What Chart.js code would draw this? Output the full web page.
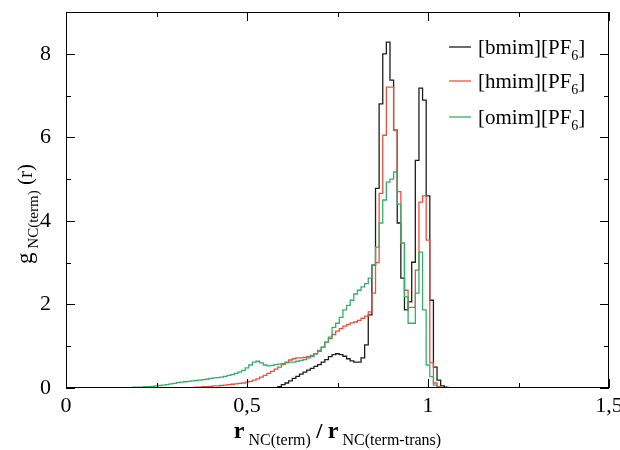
<!DOCTYPE html>
<html>
<head>
<meta charset="utf-8">
<script src="https://cdn.jsdelivr.net/npm/chart.js@4.4.1/dist/chart.umd.min.js"></script>
<style>
  body { margin: 0; background: #fff; }
  #wrap { width: 620px; height: 450px; }
</style>
</head>
<body>
<div id="wrap"><canvas id="rdfChart"></canvas></div>
<script>
// histogram bin centres (bin width 0.01)
const rCenters = [
  0.15, 0.16, 0.17, 0.18, 0.19, 0.20, 0.21, 0.22, 0.23, 0.24,
  0.25, 0.26, 0.27, 0.28, 0.29, 0.30, 0.31, 0.32, 0.33, 0.34,
  0.35, 0.36, 0.37, 0.38, 0.39, 0.40, 0.41, 0.42, 0.43, 0.44,
  0.45, 0.46, 0.47, 0.48, 0.49, 0.50, 0.51, 0.52, 0.53, 0.54,
  0.55, 0.56, 0.57, 0.58, 0.59, 0.60, 0.61, 0.62, 0.63, 0.64,
  0.65, 0.66, 0.67, 0.68, 0.69, 0.70, 0.71, 0.72, 0.73, 0.74,
  0.75, 0.76, 0.77, 0.78, 0.79, 0.80, 0.81, 0.82, 0.83, 0.84,
  0.85, 0.86, 0.87, 0.88, 0.89, 0.90, 0.91, 0.92, 0.93, 0.94,
  0.95, 0.96, 0.97, 0.98, 0.99, 1.00, 1.01, 1.02, 1.03, 1.04,
  1.05, 1.06
];

// [omim][PF6], starts at 0.15
const omim = [
  0, 0.01, 0.01, 0.01, 0.02, 0.02, 0.02, 0.03, 0.03, 0.04,
  0.05, 0.06, 0.07, 0.08, 0.10, 0.11, 0.13, 0.14, 0.15, 0.16,
  0.17, 0.18, 0.19, 0.20, 0.21, 0.23, 0.24, 0.25, 0.26, 0.28,
  0.30, 0.32, 0.35, 0.38, 0.42, 0.48, 0.55, 0.62, 0.64, 0.60,
  0.55, 0.53, 0.54, 0.56, 0.57, 0.58, 0.60, 0.62, 0.62, 0.64,
  0.66, 0.68, 0.72, 0.75, 0.82, 0.90, 0.98, 1.10, 1.22, 1.45,
  1.55, 1.69, 1.87, 1.98, 2.10, 2.25, 2.34, 2.42, 2.50, 2.63,
  2.94, 3.37, 3.95, 4.50, 4.93, 5.00, 5.17, 4.40, 3.47, 2.18,
  1.55, 1.55, 2.27, 3.25, 1.87, 0.55, 0.27, 0.07, 0.01, 0
];
const omimFrom = 0.15;

// [hmim][PF6], starts at 0.33
const hmim = [
  0, 0.01, 0.01, 0.02, 0.02, 0.03, 0.03, 0.04, 0.05, 0.05,
  0.06, 0.07, 0.08, 0.09, 0.10, 0.11, 0.12, 0.14, 0.16, 0.19,
  0.22, 0.26, 0.30, 0.35, 0.40, 0.45, 0.50, 0.56, 0.62, 0.67,
  0.70, 0.72, 0.72, 0.73, 0.75, 0.78, 0.82, 0.88, 0.98, 1.10,
  1.18, 1.28, 1.36, 1.42, 1.48, 1.52, 1.56, 1.58, 1.62, 1.67,
  1.72, 1.82, 2.27, 3.00, 4.66, 6.05, 7.20, 7.20, 6.17, 4.70,
  3.47, 2.34, 1.93, 1.93, 2.82, 4.45, 4.60, 3.54, 0.60, 0.12,
  0.03, 0
];
const hmimFrom = 0.33;

// [bmim][PF6], starts at 0.58
const bmim = [
  0, 0.03, 0.08, 0.12, 0.17, 0.23, 0.28, 0.33, 0.38, 0.43,
  0.47, 0.52, 0.56, 0.62, 0.68, 0.75, 0.80, 0.82, 0.80, 0.76,
  0.70, 0.65, 0.62, 0.62, 0.72, 1.03, 1.75, 2.94, 4.78, 6.80,
  8.00, 8.28, 7.37, 6.17, 3.95, 2.63, 1.87, 2.06, 3.01, 5.45,
  7.18, 6.89, 4.60, 2.10, 0.50, 0.19, 0.05, 0.02, 0
];
const bmimFrom = 0.58;

const xTicks = [0, 0.5, 1, 1.5];
const xMinor = [0.25, 0.75, 1.25];
const yTicks = [0, 2, 4, 6, 8];
const yMinor = [1, 3, 5, 7];

const serif = '"Liberation Serif", "DejaVu Serif", serif';

function toPoints(values, from) {
  const start = rCenters.indexOf(from);
  return values.map((v, i) => ({ x: rCenters[start + i], y: v }));
}

// draw a run of text pieces (with subscripts) starting at x
function drawPieces(ctx, pieces, x, y, align) {
  let total = 0;
  pieces.forEach(p => {
    ctx.font = (p.bold ? 'bold ' : '') + p.size + 'px ' + serif;
    p.w = ctx.measureText(p.t).width;
    total += p.w;
  });
  let cx = align === 'center' ? x - total / 2 : x;
  pieces.forEach(p => {
    ctx.font = (p.bold ? 'bold ' : '') + p.size + 'px ' + serif;
    ctx.fillText(p.t, cx, y + (p.dy || 0));
    cx += p.w;
  });
}

const framePlugin = {
  id: 'frame',
  afterDraw(chart) {
    const ctx = chart.ctx;
    const a = chart.chartArea;
    const xs = chart.scales.x;
    const ys = chart.scales.y;
    ctx.save();
    ctx.strokeStyle = '#000';
    ctx.lineWidth = 1;
    ctx.strokeRect(a.left + 0.5, a.top + 0.5, a.right - a.left - 1, a.bottom - a.top - 1);

    ctx.beginPath();
    const xt = (v, len) => {
      const px = Math.round(xs.getPixelForValue(v)) + 0.5;
      ctx.moveTo(px, a.bottom); ctx.lineTo(px, a.bottom - len);
      ctx.moveTo(px, a.top); ctx.lineTo(px, a.top + len);
    };
    const yt = (v, len) => {
      const py = Math.round(ys.getPixelForValue(v)) + 0.5;
      ctx.moveTo(a.left, py); ctx.lineTo(a.left + len, py);
      ctx.moveTo(a.right, py); ctx.lineTo(a.right - len, py);
    };
    xTicks.forEach(v => xt(v, 9));
    xMinor.forEach(v => xt(v, 5));
    yTicks.forEach(v => yt(v, 9));
    yMinor.forEach(v => yt(v, 5));
    ctx.stroke();

    ctx.fillStyle = '#000';
    ctx.textBaseline = 'alphabetic';
    ctx.textAlign = 'left';

    // x axis title
    drawPieces(ctx, [
      { t: 'r', size: 24, bold: true },
      { t: ' NC(term)', size: 16, dy: 7 },
      { t: ' / ', size: 22, bold: true },
      { t: 'r', size: 24, bold: true },
      { t: ' NC(term-trans)', size: 16, dy: 7 }
    ], (a.left + a.right) / 2, 438, 'center');

    // y axis title
    ctx.save();
    ctx.translate(32, 214);
    ctx.rotate(-Math.PI / 2);
    drawPieces(ctx, [
      { t: 'g', size: 23 },
      { t: ' NC(term)', size: 15, dy: 6 },
      { t: ' (r)', size: 21 }
    ], 0, 0, 'center');
    ctx.restore();

    // legend
    const rows = [
      { name: '[bmim][PF', color: chart.data.datasets[0].borderColor, y: 47 },
      { name: '[hmim][PF', color: chart.data.datasets[1].borderColor, y: 81 },
      { name: '[omim][PF', color: chart.data.datasets[2].borderColor, y: 117 }
    ];
    rows.forEach(r => {
      ctx.strokeStyle = r.color;
      ctx.lineWidth = 1.3;
      ctx.beginPath();
      ctx.moveTo(449, r.y); ctx.lineTo(471, r.y);
      ctx.stroke();
      drawPieces(ctx, [
        { t: r.name, size: 21 },
        { t: '6', size: 14, dy: 6 },
        { t: ']', size: 21 }
      ], 478, r.y + 7, 'left');
    });
    ctx.restore();
  }
};

new Chart(document.getElementById('rdfChart'), {
  type: 'line',
  data: {
    datasets: [
      { label: '[bmim][PF6]', data: toPoints(bmim, bmimFrom), borderColor: '#1e1e1e', order: 3 },
      { label: '[hmim][PF6]', data: toPoints(hmim, hmimFrom), borderColor: '#f0503c', order: 2 },
      { label: '[omim][PF6]', data: toPoints(omim, omimFrom), borderColor: '#35b06a', order: 1 }
    ]
  },
  options: {
    responsive: true,
    maintainAspectRatio: false,
    animation: false,
    devicePixelRatio: 1,
    layout: { padding: { top: 12, right: 11, left: 0, bottom: 0 } },
    datasets: {
      line: { stepped: 'middle', borderWidth: 1.3, pointRadius: 0, fill: false }
    },
    plugins: { legend: { display: false }, tooltip: { enabled: false } },
    scales: {
      x: {
        type: 'linear',
        min: 0,
        max: 1.5,
        afterBuildTicks: s => { s.ticks = xTicks.map(v => ({ value: v })); },
        afterFit: s => { s.height = 62; s.paddingLeft = 0; s.paddingRight = 0; },
        grid: { display: false, drawTicks: false },
        border: { display: false },
        ticks: {
          color: '#000',
          font: { family: serif, size: 22 },
          padding: 5,
          maxRotation: 0,
          autoSkip: false,
          callback: v => String(v).replace('.', ',')
        }
      },
      y: {
        type: 'linear',
        min: 0,
        max: 9,
        afterBuildTicks: s => { s.ticks = yTicks.map(v => ({ value: v })); },
        afterFit: s => { s.width = 66; s.paddingTop = 0; s.paddingBottom = 0; },
        grid: { display: false, drawTicks: false },
        border: { display: false },
        ticks: {
          color: '#000',
          font: { family: serif, size: 22 },
          padding: 15,
          callback: v => String(v)
        }
      }
    }
  },
  plugins: [framePlugin]
});
</script>
</body>
</html>
